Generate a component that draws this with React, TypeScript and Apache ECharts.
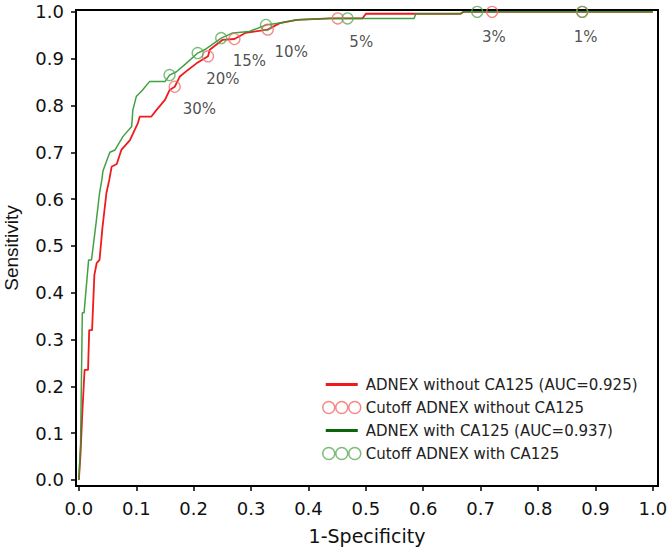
import React, { useEffect, useRef } from "react";
import * as echarts from "echarts";

// ROC curve: ADNEX without CA125
const fprWithout = [0, 0.003, 0.006, 0.009, 0.01, 0.016, 0.018, 0.023, 0.027, 0.031, 0.036, 0.041, 0.048, 0.053, 0.057, 0.066, 0.074, 0.089, 0.103, 0.106, 0.126, 0.135, 0.15, 0.158, 0.167, 0.176, 0.19, 0.205, 0.225, 0.228, 0.25, 0.271, 0.29, 0.329, 0.35, 0.38, 0.437, 0.494, 0.5, 0.665, 0.67, 1.0];
const sensWithout = [0, 0.058, 0.143, 0.214, 0.235, 0.235, 0.32, 0.32, 0.438, 0.463, 0.47, 0.538, 0.613, 0.641, 0.669, 0.675, 0.705, 0.726, 0.763, 0.776, 0.776, 0.79, 0.812, 0.833, 0.84, 0.862, 0.876, 0.89, 0.905, 0.919, 0.94, 0.942, 0.955, 0.962, 0.976, 0.983, 0.986, 0.986, 0.996, 0.996, 1.0, 1.0];

// ROC curve: ADNEX with CA125
const fprWith = [0, 0.003, 0.006, 0.009, 0.017, 0.022, 0.03, 0.036, 0.04, 0.042, 0.047, 0.054, 0.063, 0.077, 0.092, 0.094, 0.1, 0.111, 0.123, 0.15, 0.158, 0.17, 0.187, 0.207, 0.219, 0.248, 0.268, 0.297, 0.326, 0.35, 0.38, 0.437, 0.584, 0.587, 0.665, 0.67, 1.0];
const sensWith = [0, 0.079, 0.357, 0.357, 0.47, 0.47, 0.549, 0.613, 0.641, 0.66, 0.677, 0.7, 0.705, 0.734, 0.755, 0.79, 0.819, 0.833, 0.851, 0.851, 0.865, 0.872, 0.89, 0.912, 0.919, 0.944, 0.955, 0.958, 0.972, 0.976, 0.983, 0.986, 0.986, 0.996, 0.996, 1.0, 1.0];

// Cutoff points
const cutoffLabels = ["30%", "20%", "15%", "10%", "5%", "3%", "1%"];
const cutoffFprWithout = [0.167, 0.225, 0.271, 0.329, 0.451, 0.72, 0.877];
const cutoffSensWithout = [0.84, 0.905, 0.942, 0.962, 0.986, 1.0, 1.0];
const cutoffFprWith = [0.158, 0.207, 0.248, 0.326, 0.468, 0.694, 0.877];
const cutoffSensWith = [0.865, 0.912, 0.944, 0.972, 0.986, 1.0, 1.0];
// Where the cutoff texts sit (data coordinates)
const cutoffLabelFpr = [0.21, 0.251, 0.297, 0.37, 0.492, 0.723, 0.883];
const cutoffLabelSens = [0.792, 0.856, 0.894, 0.915, 0.936, 0.947, 0.947];

const tickValues = [0, 0.1, 0.2, 0.3, 0.4, 0.5, 0.6, 0.7, 0.8, 0.9, 1.0];

const seriesNames = [
  "ADNEX without CA125 (AUC=0.925)",
  "Cutoff ADNEX without CA125",
  "ADNEX with CA125 (AUC=0.937)",
  "Cutoff ADNEX with CA125",
];

const zip = (a: number[], b: number[]) => a.map((v, i) => [v, b[i]]);

const threeCircles =
  "path://M0.75,6.5a5.75,5.75 0 1,0 11.5,0a5.75,5.75 0 1,0 -11.5,0Z" +
  "M13.25,6.5a5.75,5.75 0 1,0 11.5,0a5.75,5.75 0 1,0 -11.5,0Z" +
  "M25.75,6.5a5.75,5.75 0 1,0 11.5,0a5.75,5.75 0 1,0 -11.5,0Z";
const lineIcon = "path://M0,0M38,13M3,5h32v3h-32Z";

const RED = "#ee1c1c";
const RED_LIGHT = "#f26a6a";
const GREEN = "#2f962f";
const GREEN_DARK = "#0b650b";
const GREEN_LIGHT = "#5aaa5a";

export default function App() {
  const ref = useRef<HTMLDivElement>(null);
  useEffect(() => {
    if (!ref.current) return;
    const chart = echarts.init(ref.current, undefined, { renderer: "svg" });
    const tickFont = { fontFamily: "DejaVu Sans", fontSize: 18, color: "#111" };
    chart.setOption({
      animation: false,
      backgroundColor: "#ffffff",
      grid: {
        left: 76,
        right: 12,
        top: 10,
        bottom: 64,
        containLabel: false,
        outerBoundsMode: "none",
        show: true,
        borderColor: "#000",
        borderWidth: 2,
        backgroundColor: "transparent",
      },
      xAxis: {
        type: "value",
        min: -0.005,
        max: 1.009,
        name: "1-Specificity",
        nameLocation: "middle",
        nameGap: 40,
        nameTextStyle: { fontFamily: "DejaVu Sans", fontSize: 19, color: "#111" },
        axisLine: { show: true, onZero: false, lineStyle: { color: "#000", width: 2 } },
        axisTick: { show: true, length: 5, customValues: tickValues, lineStyle: { color: "#000", width: 1.5 } },
        axisLabel: {
          ...tickFont,
          margin: 13,
          customValues: tickValues,
          formatter: (v: number) => v.toFixed(1),
        },
        splitLine: { show: false },
      },
      yAxis: {
        type: "value",
        min: -0.013,
        max: 1.004,
        name: "Sensitivity",
        nameLocation: "middle",
        nameGap: 55,
        nameTextStyle: { fontFamily: "Liberation Sans", fontSize: 19, color: "#111" },
        axisLine: { show: true, onZero: false, lineStyle: { color: "#000", width: 2 } },
        axisTick: { show: true, length: 5, customValues: tickValues, lineStyle: { color: "#000", width: 1.5 } },
        axisLabel: {
          ...tickFont,
          margin: 12,
          customValues: tickValues,
          formatter: (v: number) => v.toFixed(1),
        },
        splitLine: { show: false },
      },
      legend: {
        orient: "vertical",
        left: 322,
        top: 377,
        padding: 0,
        itemWidth: 38,
        itemHeight: 13,
        itemGap: 8,
        textStyle: { fontFamily: "DejaVu Sans", fontSize: 15, color: "#222" },
        data: [
          { name: seriesNames[0], icon: lineIcon, itemStyle: { color: RED, borderWidth: 0 } },
          {
            name: seriesNames[1],
            icon: threeCircles,
            itemStyle: { color: "rgba(0,0,0,0)", borderColor: RED_LIGHT, borderWidth: 1.5 },
          },
          { name: seriesNames[2], icon: lineIcon, itemStyle: { color: GREEN_DARK, borderWidth: 0 } },
          {
            name: seriesNames[3],
            icon: threeCircles,
            itemStyle: { color: "rgba(0,0,0,0)", borderColor: GREEN_LIGHT, borderWidth: 1.5 },
          },
        ],
      },
      series: [
        {
          name: seriesNames[0],
          type: "line",
          data: zip(fprWithout, sensWithout),
          showSymbol: false,
          symbol: "none",
          lineStyle: { color: RED, width: 1.8 },
          itemStyle: { color: RED },
          z: 2,
        },
        {
          name: seriesNames[2],
          type: "line",
          data: zip(fprWith, sensWith),
          showSymbol: false,
          symbol: "none",
          lineStyle: { color: GREEN, width: 1.5, opacity: 0.9 },
          itemStyle: { color: GREEN_DARK },
          z: 3,
        },
        {
          name: seriesNames[1],
          type: "scatter",
          data: zip(cutoffFprWithout, cutoffSensWithout),
          symbol: "circle",
          symbolSize: 11,
          itemStyle: { color: "rgba(0,0,0,0)", borderColor: RED_LIGHT, borderWidth: 1.3 },
          z: 4,
        },
        {
          name: seriesNames[3],
          type: "scatter",
          data: zip(cutoffFprWith, cutoffSensWith),
          symbol: "circle",
          symbolSize: 11,
          itemStyle: { color: "rgba(0,0,0,0)", borderColor: GREEN_LIGHT, borderWidth: 1.3 },
          z: 4,
        },
        {
          name: "cutoff labels",
          type: "scatter",
          data: cutoffLabels.map((t, i) => ({ value: [cutoffLabelFpr[i], cutoffLabelSens[i]], name: t })),
          symbolSize: 0,
          silent: true,
          label: {
            show: true,
            position: "inside",
            formatter: (p: any) => p.name,
            fontFamily: "DejaVu Sans",
            fontSize: 15,
            color: "#222",
          },
          z: 5,
        },
      ],
    });
    return () => chart.dispose();
  }, []);
  return (
    <div
      ref={ref}
      style={{ position: "absolute", left: 0, top: 0, width: 670, height: 550 }}
    />
  );
}
